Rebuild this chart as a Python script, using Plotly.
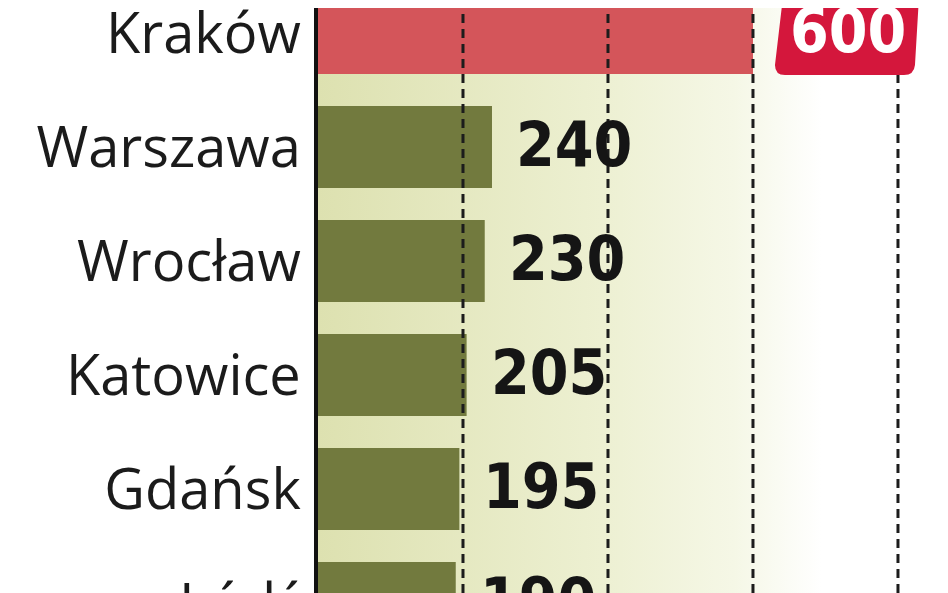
import plotly.graph_objects as go

cities = ["Kraków", "Warszawa", "Wrocław", "Katowice", "Gdańsk", "Łódź"]
values = [600, 240, 230, 205, 195, 190]
grid_values = [200, 400, 600, 800]

bar_colors = ["#d4555a" if c == "Kraków" else "#727a3e" for c in cities]

# pale green gradient behind the bars, fading to white on the right
bg_svg = ("data:image/svg+xml;utf8,<svg xmlns='http://www.w3.org/2000/svg' width='100' height='100' "
          "preserveAspectRatio='none'><defs><linearGradient id='g' x1='0' x2='1' y1='0' y2='0'>"
          "<stop offset='0' stop-color='%23dde1b0'/><stop offset='0.45' stop-color='%23edf0d2'/>"
          "<stop offset='0.66' stop-color='%23f5f7e6'/><stop offset='0.8' stop-color='%23ffffff'/>"
          "</linearGradient></defs><rect width='100' height='100' fill='url(%23g)'/></svg>")

value_font = dict(family="DejaVu Sans Condensed", size=62, weight="bold")
label_font = dict(family="Open Sans", size=56, color="#1b1b1b")

fig = go.Figure()
fig.add_trace(go.Bar(x=values, y=cities, orientation="h",
                     marker=dict(color=bar_colors, line=dict(width=0)),
                     width=0.72, hoverinfo="skip"))

# dashed grid drawn above the bars
for g in grid_values:
    fig.add_shape(type="line", xref="x", yref="paper", x0=g, x1=g, y0=0, y1=1,
                  line=dict(color="#1c1c1c", width=3, dash="9px,6px"), layer="above")

# value labels
for i, (c, v) in enumerate(zip(cities, values)):
    if c == "Kraków":
        fig.add_shape(type="path", xref="x", yref="y", xsizemode="pixel", ysizemode="pixel",
                      xanchor=v, yanchor=c,
                      path="M 40 46 L 157 46 Q 167 46 166 36 L 162 -32 Q 161 -42 151 -42 "
                           "L 32 -42 Q 22 -42 22 -32 L 30 36 Q 31 46 40 46 Z",
                      fillcolor="#d4173c", line=dict(width=0), layer="above")
        fig.add_annotation(x=v, y=c, text="%d" % v, showarrow=False,
                           xanchor="center", xshift=95, yshift=2,
                           font=dict(value_font, color="white"))
    elif c == "Łódź":
        # last row sits below the visible area: anchor on the row above and shift down
        prev = cities[i - 1]
        fig.add_annotation(x=v, y=prev, text="%d" % v, showarrow=False,
                           xanchor="left", xshift=22, yshift=-112,
                           font=dict(value_font, color="#151515"))
        fig.add_annotation(x=0, y=prev, text=c, showarrow=False,
                           xanchor="right", xshift=-14, yshift=-113,
                           font=label_font)
    else:
        fig.add_annotation(x=v, y=c, text="%d" % v, showarrow=False,
                           xanchor="left", xshift=22, yshift=2,
                           font=dict(value_font, color="#151515"))

fig.add_layout_image(source=bg_svg, xref="paper", yref="paper", x=0, y=1,
                     sizex=1, sizey=1, sizing="stretch", xanchor="left", yanchor="top",
                     layer="below")

fig.update_xaxes(range=[0, 869], showgrid=False, showticklabels=False, zeroline=False,
                 showline=False, automargin=False)
fig.update_yaxes(range=[4.913, -0.219], showgrid=False, showline=True, linecolor="#111111",
                 linewidth=4, ticks="", ticklabelstandoff=2, automargin=False,
                 tickfont=label_font)
fig.update_layout(width=940, height=585, margin=dict(l=310, r=0, t=0, b=0, autoexpand=False),
                  plot_bgcolor="rgba(0,0,0,0)", paper_bgcolor="white",
                  showlegend=False, bargap=0.28)

fig.write_html("out.html")
